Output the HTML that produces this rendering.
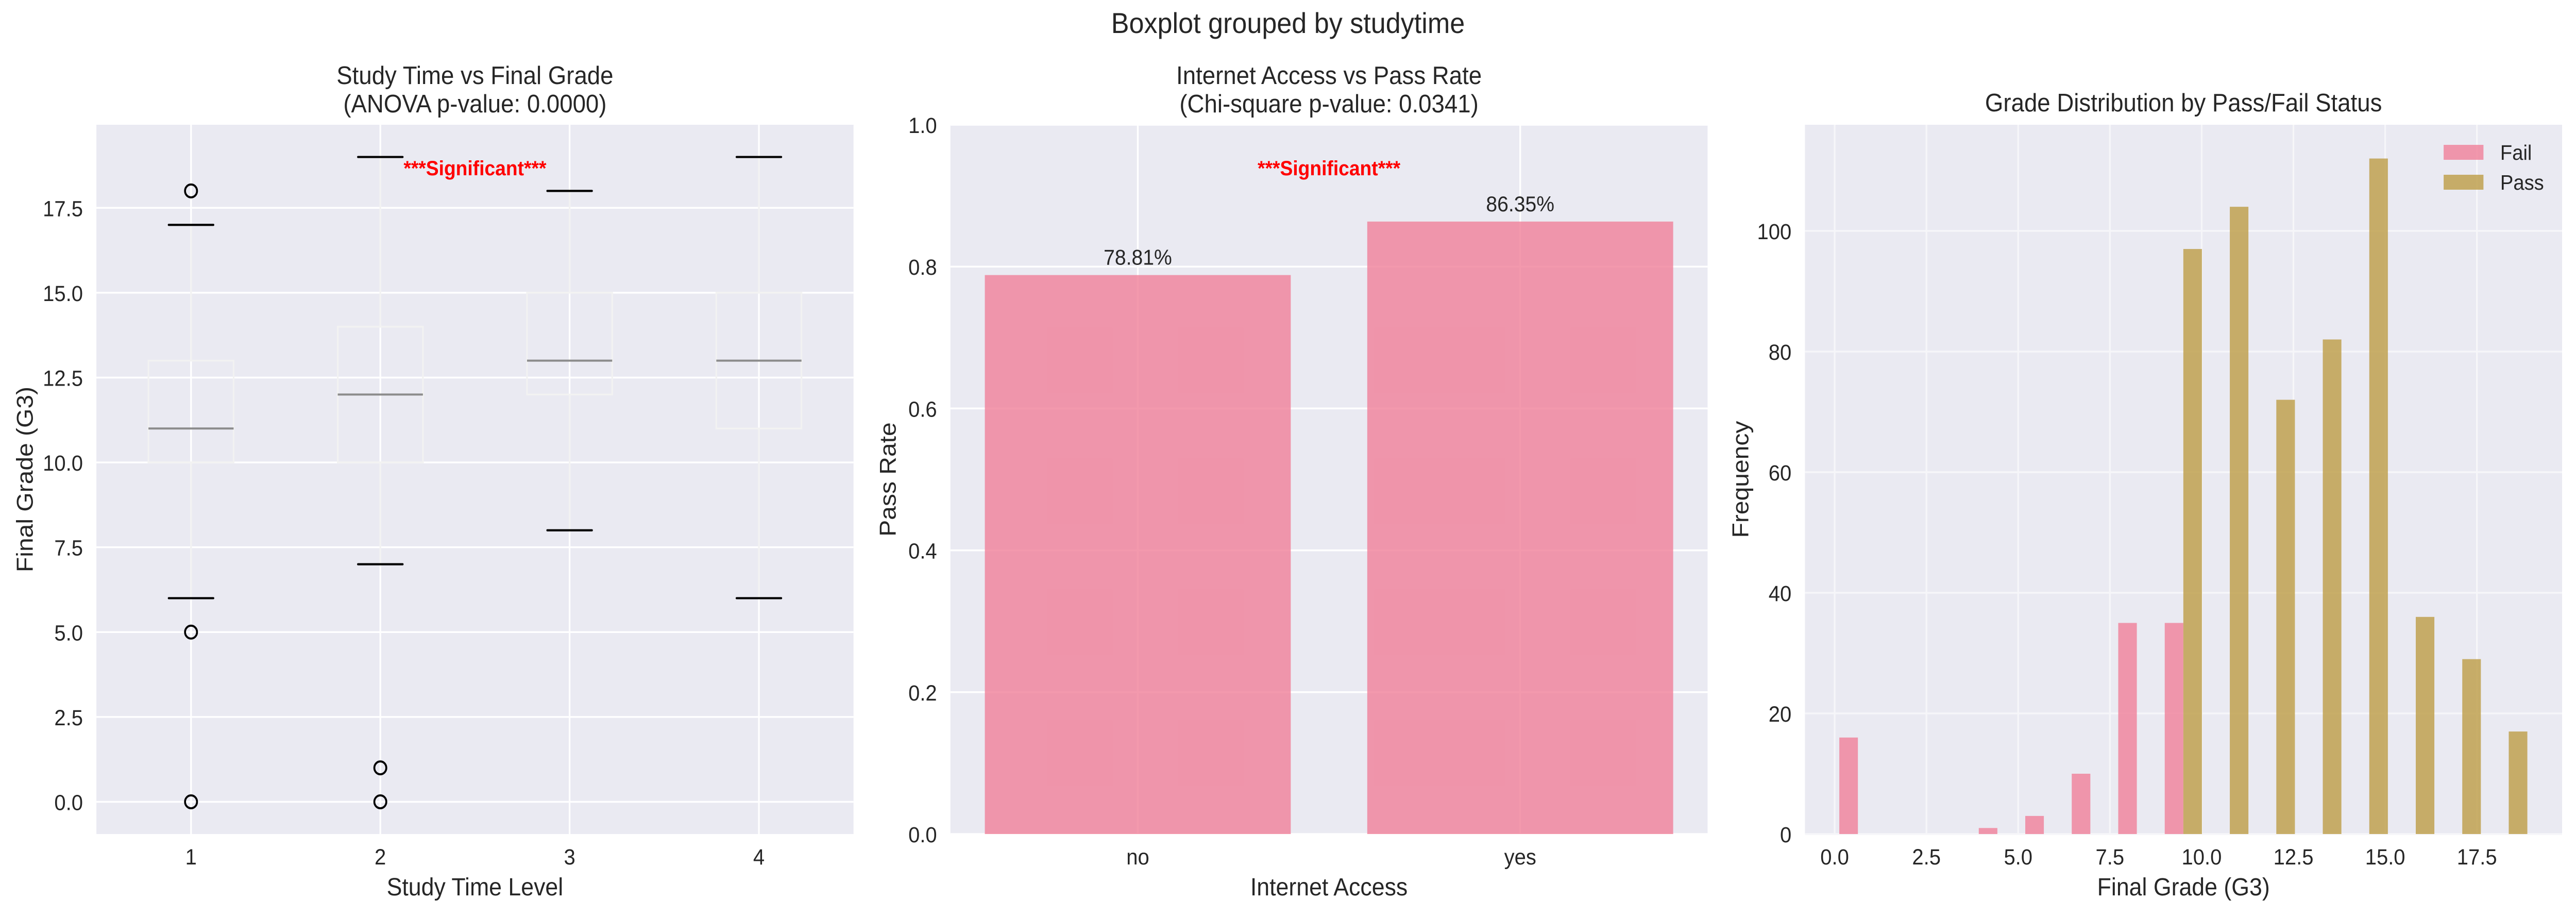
<!DOCTYPE html>
<html><head><meta charset="utf-8"><style>
html,body{margin:0;padding:0;background:#fff;width:100%;height:100%;overflow:hidden}
svg{display:block;width:100vw;height:100vh}
text{font-family:"Liberation Sans",Arial,sans-serif;fill:#262626}
</style></head><body>
<svg id="fig" viewBox="0 0 5372 1777" preserveAspectRatio="none" xmlns="http://www.w3.org/2000/svg">
<rect width="5372" height="1777" fill="#fff"/>
<text x="2686" y="64" font-size="56" text-anchor="middle">Boxplot grouped by studytime</text>
<g id="p1"></g>
<g id="p2"></g>
<g id="p3"></g>
</svg>
<script>
// ---- Panel 1 data ----
const studyLevels = [1, 2, 3, 4];
const boxQ1 = [10, 10, 12, 11];
const boxMedian = [11, 12, 13, 13];
const boxQ3 = [13, 14, 15, 15];
const whiskerLow = [6, 7, 8, 6];
const whiskerHigh = [17, 19, 18, 19];
const fliers = [[18, 5, 0], [1, 0], [], []];
const p1YTicks = [0, 2.5, 5, 7.5, 10, 12.5, 15, 17.5];
// ---- Panel 2 data ----
const internetCats = ['no', 'yes'];
const passRates = [0.7881, 0.8635];
const passRateLabels = ['78.81%', '86.35%'];
const p2YTicks = [0, 0.2, 0.4, 0.6, 0.8, 1.0];
// ---- Panel 3 data ----
const histBinCount = 15;
const histMin = 0, histMax = 19;
const failCounts = [16, 0, 0, 1, 3, 10, 35, 35, 0, 0, 0, 0, 0, 0, 0];
const passCounts = [0, 0, 0, 0, 0, 0, 0, 97, 104, 72, 82, 112, 36, 29, 17];
const p3XTicks = [0, 2.5, 5, 7.5, 10, 12.5, 15, 17.5];
const p3YTicks = [0, 20, 40, 60, 80, 100];

const NS = 'http://www.w3.org/2000/svg';
function mk(parent, tag, attrs, txt) {
  const e = document.createElementNS(NS, tag);
  for (const k in attrs) e.setAttribute(k, attrs[k]);
  if (txt !== undefined) e.textContent = txt;
  parent.appendChild(e);
  return e;
}
const TOP = 242, BOT = 1618, W = 1579;
function scale(d0, d1, r0, r1) { return v => r0 + (v - d0) / (d1 - d0) * (r1 - r0); }
const FS_TICK = 43, FS_LAB = 48, FS_TITLE = 49;

function axesBg(g, L) {
  const r = mk(g, 'rect', {x: L, y: TOP, width: W, height: BOT - TOP, fill: '#EAEAF2'});
  
  
}
function title(g, L, lines) {
  lines.forEach((t, i) => {
    const e = mk(g, 'text', {x: L + W / 2, y: (lines.length === 1 ? 216 : 163 + i * 55), 'font-size': FS_TITLE, 'text-anchor': 'middle'}, t);
    
    
  });
}
function xlabel(g, L, t) {
  const e = mk(g, 'text', {x: L + W / 2, y: 1737, 'font-size': FS_LAB, 'text-anchor': 'middle'}, t);
  
  
}
function ylabel(g, x, t) {
  const e = mk(g, 'text', {x: x, y: (TOP + BOT) / 2, 'font-size': FS_LAB, 'text-anchor': 'middle', transform: `rotate(-90 ${x} ${(TOP + BOT) / 2})`}, t);
  
  
}
function yTicks(g, L, ticks, ys, fmt, gridColor) {
  ticks.forEach(v => {
    const y = ys(v);
    const gl = mk(g, 'line', {x1: L, x2: L + W, y1: y, y2: y, stroke: gridColor, 'stroke-width': 3.5});
    
    
    const t = mk(g, 'text', {x: L - 28, y: y + 16, 'font-size': FS_TICK, 'text-anchor': 'end'}, fmt(v));
    
    
  });
}
function xTicks(g, ticks, xs, labels, gridColor) {
  ticks.forEach((v, i) => {
    const x = xs(v);
    const gl = mk(g, 'line', {x1: x, x2: x, y1: TOP, y2: BOT, stroke: gridColor, 'stroke-width': 3.5});
    
    
    const t = mk(g, 'text', {x: x, y: 1677, 'font-size': FS_TICK, 'text-anchor': 'middle'}, labels[i]);
    
    
  });
}
function sig(g, x) {
  const e = mk(g, 'text', {x: x, y: 340, 'font-size': 40, 'font-weight': 'bold', 'text-anchor': 'middle', style: 'fill:#ff0000'}, '***Significant***');
  
  
}

// ---- Panel 1 ----
(function () {
  const g = document.getElementById('p1');
  const L = 201;
  axesBg(g, L);
  const xs = scale(0.5, 4.5, L, L + W);
  const ys = scale(-0.95, 19.95, BOT, TOP);
  yTicks(g, L, p1YTicks, ys, v => v.toFixed(1), '#fff');
  xTicks(g, studyLevels, xs, studyLevels.map(String), '#fff');
  studyLevels.forEach((lv, i) => {
    const cx = xs(lv), hw = 0.225 * (xs(1) - xs(0)), cw = 0.1175 * (xs(1) - xs(0));
    const bx = mk(g, 'rect', {x: cx - hw, y: ys(boxQ3[i]), width: 2 * hw, height: ys(boxQ1[i]) - ys(boxQ3[i]), fill: 'none', stroke: '#f2f2f2', 'stroke-width': 3.5});
    
    
    [[boxQ1[i], whiskerLow[i]], [boxQ3[i], whiskerHigh[i]]].forEach(p => {
      const w = mk(g, 'line', {x1: cx, x2: cx, y1: ys(p[0]), y2: ys(p[1]), stroke: '#f2f2f2', 'stroke-width': 3.5});
      
      
    });
    const md = mk(g, 'line', {x1: cx - hw, x2: cx + hw, y1: ys(boxMedian[i]), y2: ys(boxMedian[i]), stroke: '#8c8c8c', 'stroke-width': 4});
    
    
    [whiskerLow[i], whiskerHigh[i]].forEach(v => {
      const c = mk(g, 'line', {x1: cx - cw, x2: cx + cw, y1: ys(v), y2: ys(v), stroke: '#000', 'stroke-width': 4.2, 'stroke-linecap': 'round'});
      
      
    });
    fliers[i].forEach(v => {
      const f = mk(g, 'circle', {cx: cx, cy: ys(v), r: 12.5, fill: 'none', stroke: '#000', 'stroke-width': 4});
      
      
    });
  });
  title(g, L, ['Study Time vs Final Grade', '(ANOVA p-value: 0.0000)']);
  sig(g, L + W / 2);
  xlabel(g, L, 'Study Time Level');
  ylabel(g, 68, 'Final Grade (G3)');
})();

// ---- Panel 2 ----
(function () {
  const g = document.getElementById('p2');
  const L = 1982;
  axesBg(g, L);
  const xs = scale(-0.49, 1.49, L, L + W);
  const ys = scale(0, 1, BOT, TOP);
  yTicks(g, L, p2YTicks, ys, v => v.toFixed(1), '#fff');
  xTicks(g, internetCats.map((c, i) => i), xs, internetCats, '#fff');
  internetCats.forEach((c, i) => {
    const x0 = xs(i - 0.4), x1 = xs(i + 0.4);
    const b = mk(g, 'rect', {x: x0, y: ys(passRates[i]), width: x1 - x0, height: BOT - ys(passRates[i]), fill: '#F07F98', 'fill-opacity': 0.8});
    
    
    const t = mk(g, 'text', {x: xs(i), y: ys(passRates[i]) - 20, 'font-size': 42, 'text-anchor': 'middle'}, passRateLabels[i]);
    
    
  });
  title(g, L, ['Internet Access vs Pass Rate', '(Chi-square p-value: 0.0341)']);
  sig(g, L + W / 2);
  xlabel(g, L, 'Internet Access');
  ylabel(g, 1868, 'Pass Rate');
})();

// ---- Panel 3 ----
(function () {
  const g = document.getElementById('p3');
  const L = 3764;
  axesBg(g, L);
  const xs = scale(-0.81, 19.82, L, L + W);
  const ys = scale(0, 117.6, BOT, TOP);
  const gc = '#f6f6f9';
  yTicks(g, L, p3YTicks, ys, v => String(v), gc);
  xTicks(g, p3XTicks, xs, p3XTicks.map(v => v.toFixed(1)), gc);
  const bw = (histMax - histMin) / histBinCount;
  for (let i = 0; i < histBinCount; i++) {
    const s = histMin + i * bw;
    [[failCounts, 0.1, '#F07F98', 'fail'], [passCounts, 0.5, '#BD9C45', 'pass']].forEach(d => {
      const v = d[0][i];
      if (!v) return;
      const x0 = xs(s + d[1] * bw), x1 = xs(s + (d[1] + 0.4) * bw);
      const b = mk(g, 'rect', {x: x0, y: ys(v), width: x1 - x0, height: BOT - ys(v), fill: d[2], 'fill-opacity': 0.8});
      
      
    });
  }
  const lg = mk(g, 'g', {});
  
  
  [['Fail', '#F07F98', 281, 310], ['Pass', '#BD9C45', 339, 368]].forEach(e => {
    const r = mk(lg, 'rect', {x: 5096, y: e[2], width: 83, height: 29, fill: e[1], 'fill-opacity': 0.8});
    
    
    const t = mk(lg, 'text', {x: 5214, y: e[3], 'font-size': 41}, e[0]);
    
    
  });
  title(g, L, ['Grade Distribution by Pass/Fail Status']);
  xlabel(g, L, 'Final Grade (G3)');
  ylabel(g, 3646, 'Frequency');
})();
</script>
</body></html>
